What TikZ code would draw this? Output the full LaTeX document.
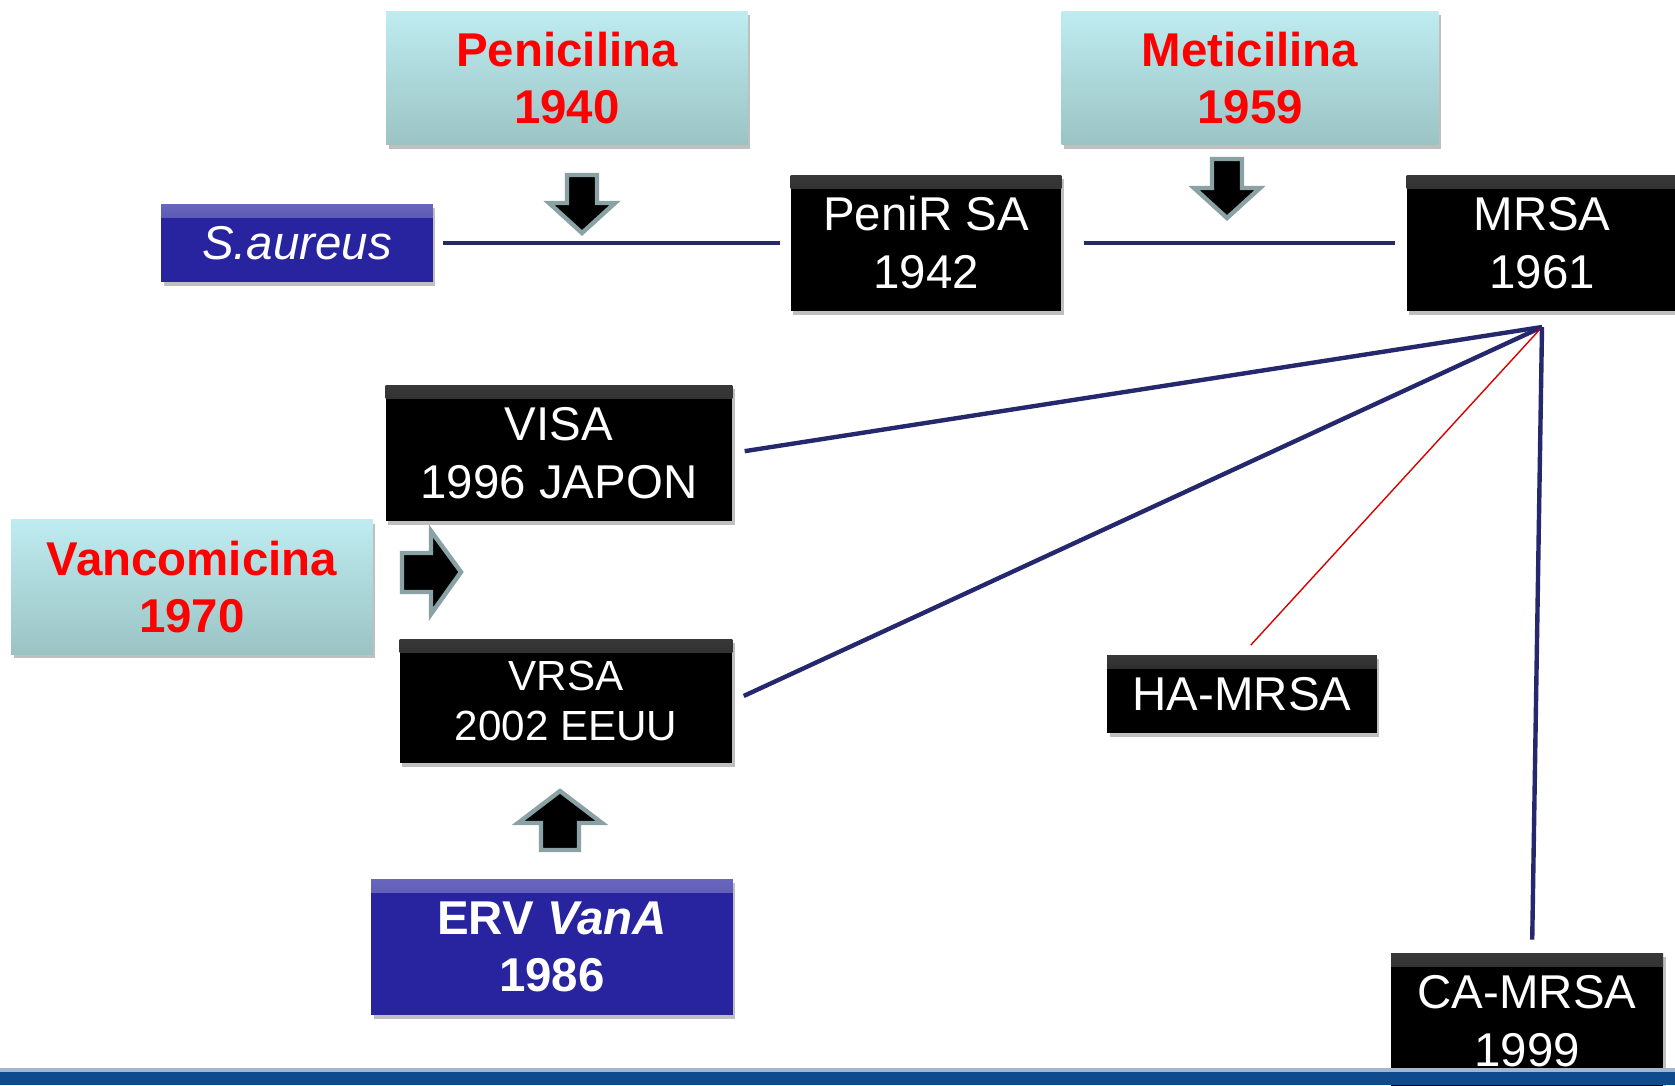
\documentclass[tikz,border=0pt]{standalone}
\usepackage{fontspec}
\setmainfont{Liberation Sans}
\usetikzlibrary{positioning,shadows}

\definecolor{drugtop}{RGB}{190,236,240}
\definecolor{drugbot}{RGB}{155,195,196}
\definecolor{germblue}{RGB}{40,36,160}
\definecolor{linkblue}{RGB}{38,40,110}
\definecolor{arrowgray}{RGB}{138,162,164}
\definecolor{barblue}{RGB}{14,74,140}

\tikzset{
  boxshadow/.style={drop shadow={shadow xshift=0.05cm, shadow yshift=-0.08cm, opacity=0.25, fill=black}},
  bevel/.style 2 args={path picture={\shade[top color=#1, bottom color=#2] (path picture bounding box.north west) rectangle ([yshift=-0.26cm]path picture bounding box.north east);}},
  drug/.style={rectangle, inner sep=0pt, minimum height=2.68cm, top color=drugtop, bottom color=drugbot, boxshadow, text=red, align=center, font=\fontsize{27}{32}\selectfont\bfseries},
  strain/.style={rectangle, inner sep=0pt, minimum height=2.72cm, minimum width=5.42cm, fill=black, bevel={black!78!white}{black}, boxshadow, text=white, align=center, font=\fontsize{27}{33}\selectfont},
  germ/.style={rectangle, inner sep=0pt, fill=germblue, bevel={germblue!70!white}{germblue}, boxshadow, text=white, align=center, font=\fontsize{27}{32}\selectfont},
  link/.style={draw=linkblue, line width=2.5pt},
  blockarrow/.style={fill=black, draw=arrowgray, line width=2.5pt},
}

\begin{document}
\begin{tikzpicture}[x=0.02cm, y=-0.02cm]
  \fill[white] (0,0) rectangle (1675,1085);
  \useasboundingbox (0,0) rectangle (1675,1085);

  % antibiotics
  \node[drug, minimum width=7.24cm] (pen) at (567,78) {Penicilina\\1940};
  \node[drug, minimum width=7.54cm] (met) at (1250,78) {Meticilina\\1959};
  \node[drug, minimum width=7.24cm, minimum height=2.7cm] (vanc) at (192,587) {Vancomicina\\1970};

  % strains
  \node[germ, minimum width=5.44cm, minimum height=1.56cm] (saur) at (297,243) {\itshape S.aureus};
  \node[strain] (penir) at (926,243) {PeniR SA\\1942};
  \node[strain] (mrsa) at (1542,243) {MRSA\\1961};
  \node[strain, minimum width=6.94cm] (visa) at (559,453) {VISA\\1996 JAPON};
  \node[strain, minimum width=6.66cm, minimum height=2.48cm, font=\fontsize{24}{28.5}\selectfont] (vrsa) at (566,701) {VRSA\\2002 EEUU};
  \node[germ, minimum width=7.24cm, minimum height=2.72cm, font=\fontsize{27}{32}\selectfont\bfseries] (erv) at (552,947) {ERV \textit{VanA}\\1986};
  \node[strain, minimum width=5.4cm, minimum height=1.56cm] (hamrsa) at (1242,694) {HA-MRSA};
  \node[strain, minimum width=5.44cm] (camrsa) at (1527,1021) {CA-MRSA\\1999};

  % links
  \coordinate (hub) at (1542,327);
  \draw[link, shorten <=0.2cm, shorten >=0.2cm] (saur) -- (penir);
  \draw[link, shorten <=0.44cm, shorten >=0.22cm] (penir) -- (mrsa);
  \draw[link, shorten >=0.24cm] (hub) -- (visa.east);
  \draw[link, shorten >=0.24cm] (hub) -- (vrsa.east);
  \draw[red!85!black, line width=0.8pt, shorten >=0.26cm] (hub) -- (hamrsa.north);
  \draw[link, shorten >=0.26cm] (hub) -- ([xshift=0.1cm]camrsa.north);

  % block arrows
  \draw[blockarrow] (567,175) -- (597,175) -- (597,203) -- (615,203) -- (582,233) -- (549,203) -- (567,203) -- cycle;
  \draw[blockarrow] (1212,159) -- (1242,159) -- (1242,188) -- (1260,188) -- (1227,218) -- (1194,188) -- (1212,188) -- cycle;
  \draw[blockarrow] (402,553) -- (431,553) -- (431,531) -- (461,572) -- (431,614) -- (431,592) -- (402,592) -- cycle;
  \draw[blockarrow] (541,850) -- (541,823) -- (518,823) -- (560,791) -- (602,823) -- (579,823) -- (579,850) -- cycle;

  % bottom bar
  \fill[barblue!40!white] (0,1068) rectangle (1675,1072);
  \fill[barblue] (0,1072) rectangle (1675,1085);
\end{tikzpicture}
\end{document}
